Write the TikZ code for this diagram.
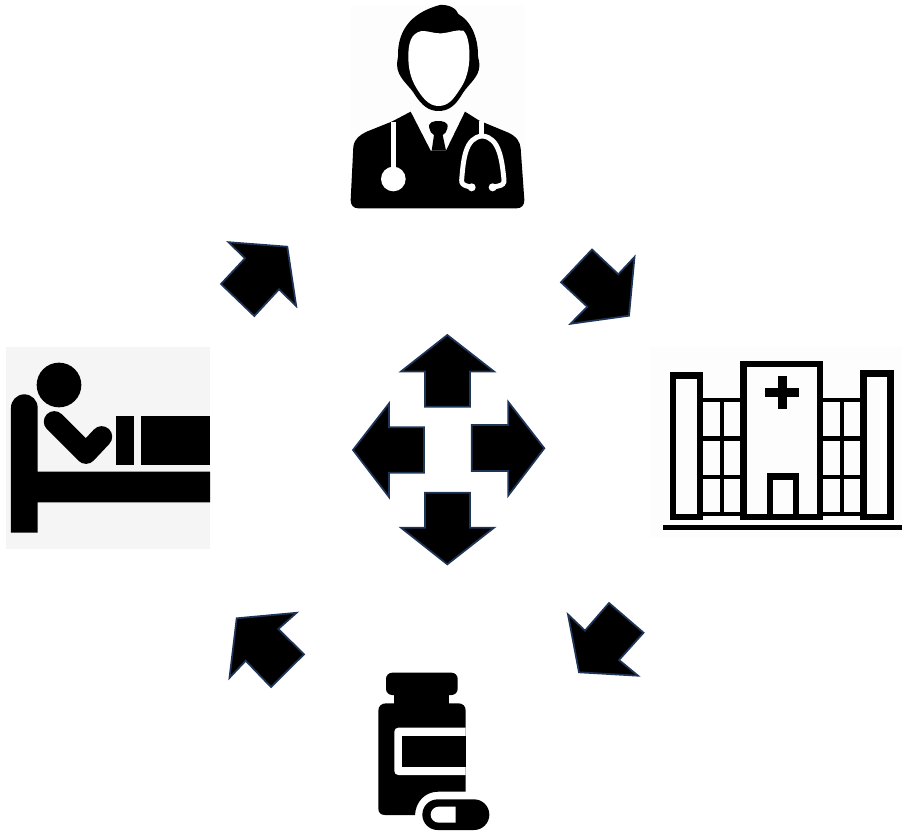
\documentclass[tikz,border=0pt]{standalone}
\usepackage{tikz}

\definecolor{arrowedge}{HTML}{1F3558}
\definecolor{bedback}{HTML}{F5F5F5}
\definecolor{iconback}{HTML}{FDFDFD}

\tikzset{
	arrowpoly/.style={fill=black, draw=arrowedge, line width=1pt, line join=miter},
	scopethree/.style={shift={#1}, scale=0.33333},
	tube/.style={draw=white, line width=2.8pt, line cap=round},
	wall/.style={draw=black, line width=3.9pt},
	pane/.style={draw=black, line width=2.7pt}
}

\begin{document}
\begin{tikzpicture}[x=0.02cm, y=-0.02cm]
	\useasboundingbox (0,0) rectangle (902,834);

	\draw[arrowpoly] (447.3,335) -- (401,371.5) -- (425,371.5) -- (425,406.7) -- (470,406.7) -- (470,371.5) -- (494,371.5) -- cycle;
	\draw[arrowpoly] (353,450) -- (389,403.5) -- (389,427.3) -- (424,427.3) -- (424,472.7) -- (389,472.7) -- (389,497) -- cycle;
	\draw[arrowpoly] (544.3,448.3) -- (508.3,402) -- (508.3,425) -- (471.7,425) -- (471.7,471) -- (508.3,471) -- (508.3,495.5) -- cycle;
	\draw[arrowpoly] (447.3,564.3) -- (401,527.7) -- (425,527.7) -- (425,492.7) -- (470,492.7) -- (470,527.7) -- (494,527.7) -- cycle;

	\draw[arrowpoly] (287.3,246.7) -- (228.5,242.2) -- (245,258.3) -- (221,284) -- (254.3,316) -- (279,289.3) -- (296.2,306) -- cycle;
	\draw[arrowpoly] (629,315.7) -- (634.5,257) -- (618.3,274.3) -- (592,249.5) -- (561,282.3) -- (587.3,306.7) -- (570.5,323.8) -- cycle;
	\draw[arrowpoly] (579,672.3) -- (568,614.5) -- (585,630.7) -- (609,603) -- (643.5,632.7) -- (619,660) -- (638,675.7) -- cycle;
	\draw[arrowpoly] (236.7,618.3) -- (296.5,612.8) -- (278.3,629) -- (304,654.3) -- (271,687) -- (245.7,660.7) -- (229.5,677.8) -- cycle;

	\begin{scope}[scopethree={(340,0)}]
		\fill[iconback] (33,15) rectangle (555,625);
		\fill[black] (32,600) -- (40,440) .. controls (44,415) and (60,405) .. (80,395) -- (155,365) -- (212,335) -- (272,452) -- (318,452) -- (375,335) -- (418,362) -- (505,398) .. controls (530,410) and (540,425) .. (542,445) -- (553,600) .. controls (553,615) and (545,625) .. (530,625) -- (55,625) .. controls (40,625) and (32,615) .. (32,600) -- cycle;
		\fill[black] (268,385) .. controls (262,365) and (285,363) .. (295,363) .. controls (305,363) and (328,365) .. (322,385) .. controls (320,395) and (315,402) .. (308,405) -- (318,452) -- (275,452) -- (282,405) .. controls (275,402) and (270,395) .. (268,385) -- cycle;
		\fill[black] (295,333) .. controls (265,333) and (245,315) .. (225,285) .. controls (212,262) and (188,245) .. (177,220) .. controls (170,205) and (170,190) .. (174,170) .. controls (172,100) and (205,40) .. (300,15) .. controls (325,13) and (350,25) .. (355,42) .. controls (395,65) and (415,115) .. (414,170) .. controls (420,190) and (420,205) .. (412,222) .. controls (400,245) and (378,262) .. (365,285) .. controls (345,318) and (325,333) .. (295,333) -- cycle;
		\fill[white] (295,318) .. controls (265,318) and (245,290) .. (228,262) .. controls (212,235) and (205,205) .. (205,170) .. controls (205,130) and (212,100) .. (245,93) .. controls (265,92) and (285,102) .. (305,100) .. controls (330,98) and (350,88) .. (370,92) .. controls (385,105) and (390,145) .. (388,180) .. controls (385,225) and (372,250) .. (358,270) .. controls (340,298) and (325,318) .. (295,318) -- cycle;
		\draw[tube, line cap=butt] (160,365) -- (160,520);
		\fill[white] (160,537) circle[radius=37];
		\draw[tube, line cap=butt] (425,362) -- (425,405);
		\draw[tube] (395,562) -- (380,558) .. controls (370,555) and (364,550) .. (365,540) .. controls (370,480) and (375,412) .. (427,408) .. controls (478,412) and (486,480) .. (492,540) .. controls (493,550) and (487,556) .. (475,558) -- (458,562);
		\fill[white] (395,562) circle[radius=12];
		\fill[white] (458,562) circle[radius=12];
	\end{scope}

	\begin{scope}[scopethree={(0,340)}]
		\fill[bedback] (18,22) rectangle (630,628);
		\fill[black] (177,135) circle[radius=67];
		\fill[black] (33,578) -- (33,203) arc[start angle=180, end angle=360, radius=40] -- (113,395) -- (630,395) -- (630,487) -- (113,487) -- (113,578) -- cycle;
		\draw[black, line width=12pt, line cap=round, line join=round] (163,245) -- (258,340) -- (305,290);
		\fill[black] (347,228) rectangle (403,375);
		\fill[black] (423,228) rectangle (630,375);
	\end{scope}

	\begin{scope}[scopethree={(650,340)}]
		\fill[iconback] (0,20) rectangle (756,590);
		\draw[pane] (160,180) -- (272,180);
		\draw[pane] (160,296) -- (272,296);
		\draw[pane] (160,411) -- (272,411);
		\draw[pane] (160,522) -- (272,522);
		\draw[pane] (216,180) -- (216,522);
		\draw[pane] (520,180) -- (632,180);
		\draw[pane] (520,296) -- (632,296);
		\draw[pane] (520,411) -- (632,411);
		\draw[pane] (520,522) -- (632,522);
		\draw[pane] (576,180) -- (576,522);
		\draw[wall] (69,106) rectangle (150,531);
		\draw[wall] (641,101) rectangle (721,531);
		\draw[wall] (281,72) rectangle (510,531);
		\draw[wall] (360,531) -- (360,409) -- (438,409) -- (438,531);
		\fill[black] (385,108) rectangle (410,208);
		\fill[black] (345,145) rectangle (447,170);
		\fill[black] (38,555) rectangle (757,570);
	\end{scope}

	\begin{scope}[scopethree={(360,660)}]
		\fill[black, rounded corners=3.5pt] (78,38) rectangle (293,105);
		\fill[black] (103,100) rectangle (268,135);
		\fill[black] (317,395) -- (235,395) .. controls (195,395) and (167,425) .. (165,465) -- (75,465) .. controls (62,465) and (55,458) .. (55,445) -- (55,152) .. controls (55,138) and (65,130) .. (78,130) -- (295,130) .. controls (308,130) and (317,138) .. (317,152) -- cycle;
		\fill[white] (317,203) -- (115,203) .. controls (108,203) and (103,208) .. (103,215) -- (103,333) .. controls (103,340) and (108,345) .. (115,345) -- (317,345) -- cycle;
		\fill[black] (127,227) rectangle (317,322);
		\fill[black] (233,418) -- (342,418) arc[start angle=-90, end angle=90, radius=46] -- (233,510) arc[start angle=90, end angle=270, radius=46] -- cycle;
		\fill[white] (287,440) -- (236,440) arc[start angle=-90, end angle=-270, radius=24] -- (287,488) -- cycle;
	\end{scope}
\end{tikzpicture}
\end{document}
